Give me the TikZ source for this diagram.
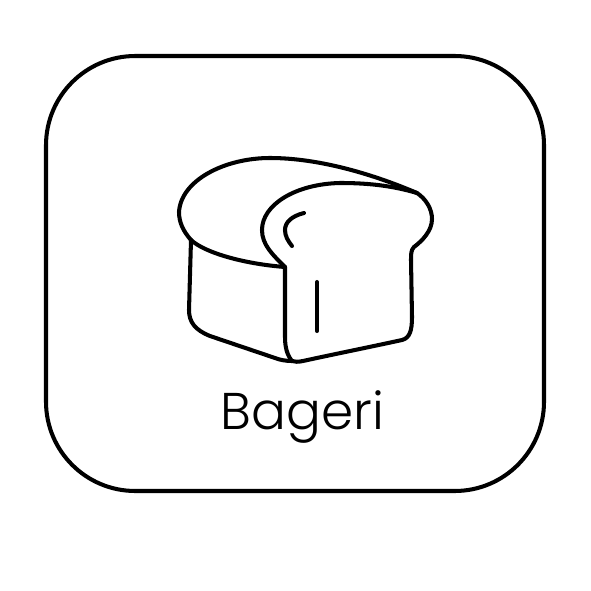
\documentclass[tikz,border=0pt]{standalone}
\usepackage{fontspec}
\setmainfont{Poppins Light}
\tikzset{
    frame/.style={line width=1.15pt},
    bread/.style={line width=1.15pt,line cap=round,line join=round}
}
\begin{document}
\begin{tikzpicture}[x=0.01cm,y=-0.01cm]
    \useasboundingbox (0,0) rectangle (591,591);

    % Rounded frame
    \draw[frame,rounded corners=2.55cm*0.35] (46,56) rectangle (544,491);

    % Top crust and right side of the loaf
    \draw[bread] (191,240) .. controls (183,231) and (179,222) .. (179,212)
        .. controls (181,180) and (225,158) .. (270,158)
        .. controls (320,158) and (375,175) .. (417,193)
        .. controls (426,199) and (432,209) .. (432,219)
        .. controls (432,231) and (422,241) .. (414,247)
        .. controls (411,250) and (411,254) .. (411,260)
        -- (412,317)
        .. controls (412,330) and (410,338) .. (402,340)
        .. controls (370,347) and (335,354) .. (303,361)
        .. controls (298,362) and (295,362) .. (292,361);

    % Front slice
    \draw[bread] (417,193) .. controls (390,185) and (365,183) .. (340,183)
        .. controls (295,184) and (262,205) .. (262,230)
        .. controls (262,245) and (273,255) .. (285,267)
        -- (285,337)
        .. controls (285,347) and (287,355) .. (292,361);

    % Side of the loaf
    \draw[bread] (191,240) .. controls (205,253) and (245,264) .. (285,267);
    \draw[bread] (191,240) -- (189,310)
        .. controls (189,322) and (195,330) .. (210,336)
        -- (275,358)
        .. controls (280,360) and (286,361) .. (292,361);

    % Small marks on the slice
    \draw[bread] (304,213) .. controls (292,216) and (285,222) .. (285,230)
        .. controls (285,236) and (288,241) .. (292,246);
    \draw[bread] (317,282) -- (317,331);

    % Label
    \node[inner sep=0pt,anchor=base,font=\fontsize{14.7pt}{16pt}\selectfont] (label) at (302.5,429) {Bageri};
\end{tikzpicture}
\end{document}
